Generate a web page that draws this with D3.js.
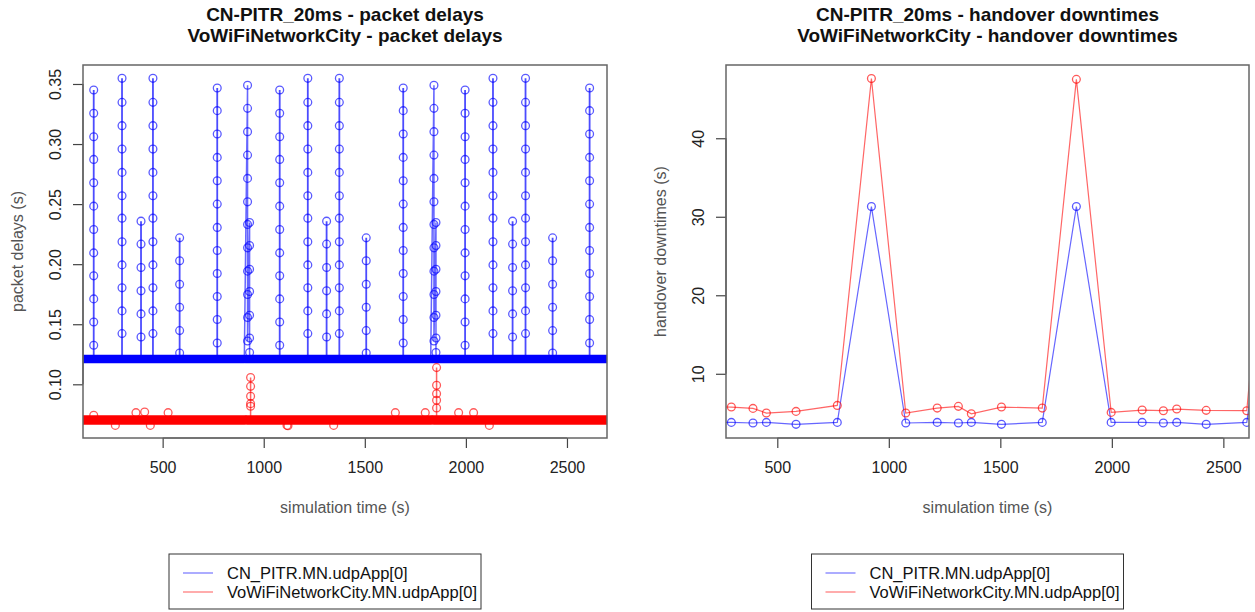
<!DOCTYPE html>
<html lang="en"><head>
<meta charset="utf-8">
<title>CN-PITR_20ms vs VoWiFiNetworkCity</title>
<script src="https://cdn.jsdelivr.net/npm/d3@7/dist/d3.min.js"></script>
<style>
body { margin:0; background:#fff; }
text { font-family: "Liberation Sans", Arial, Helvetica, sans-serif; }
</style>
</head>
<body>
<script>
// ---- data ----
var seriesNames = ["CN_PITR.MN.udpApp[0]", "VoWiFiNetworkCity.MN.udpApp[0]"];

// packet delays: steady levels (start, end, delay)
var cnBand = [[90, 904, 0.1211], [912, 1826, 0.1211], [1834, 2720, 0.1211]];
var vowifiBand = [[90, 906, 0.0703], [918, 1828, 0.0703], [1840, 2720, 0.0703]];

// delay ladders seen in each burst (s)
var ladderA = [0.345, 0.3256, 0.3061, 0.2872, 0.2678, 0.2483, 0.2289, 0.2094, 0.1903, 0.1711, 0.1519, 0.1325];
var ladderB = [0.3547, 0.3347, 0.3153, 0.2958, 0.2764, 0.2569, 0.2383, 0.2186, 0.1994, 0.1803, 0.1611, 0.1422];
var ladderC = [0.2358, 0.2167, 0.1972, 0.1778, 0.1586, 0.1394];
var ladderD = [0.2219, 0.2028, 0.1833, 0.1642, 0.1447, 0.1261];
var ladderE = [0.3467, 0.3278, 0.3083, 0.2889, 0.2694, 0.25, 0.2306, 0.2114, 0.1922, 0.1731, 0.1539, 0.1344];
var ladderH1 = [0.349, 0.3297, 0.3103, 0.2908, 0.2714, 0.2519, 0.2331, 0.2136, 0.1942, 0.1747, 0.1556, 0.1361];
var ladderH2 = [0.2347, 0.2156, 0.1958, 0.1772, 0.1575, 0.1386, 0.1264];
var ladderR1 = [0.1056, 0.0983, 0.09, 0.0839, 0.0817];
var ladderR2 = [0.1139, 0.0992, 0.0922, 0.0867, 0.0803];

var burstTimes = [159, 299, 393, 452, 584, 770, 1079, 1218, 1311, 1374, 1507, 1690, 1996, 2134, 2231, 2295, 2429, 2612];
var burstKinds = ["A", "B", "C", "B", "D", "E", "A", "B", "C", "B", "D", "E", "A", "B", "C", "B", "D", "E"];

// handover bursts: band end time, column times
var cnHandoverStart = [904, 1826];
var cnHandoverCols = [[920, 930], [1842, 1852]];
var vowifiHandoverTimes = [935, 1855];

var vowifiOutlierT = [159, 266, 368, 411, 439, 527, 1115, 1120, 1346, 1651, 1799, 1964, 2038, 2116];
var vowifiOutlierD = [0.0742, 0.0658, 0.0764, 0.0769, 0.0658, 0.0764, 0.0658, 0.0655, 0.0658, 0.0764, 0.0764, 0.0764, 0.0764, 0.0658];

// handover downtimes
var handoverTimes = [159, 294, 391, 451, 584, 769, 922, 1076, 1217, 1312, 1370, 1505, 1688, 1841, 1997, 2136, 2231, 2291, 2423, 2605, 2740];
var downtimeCN = [3.8, 3.81, 3.73, 3.81, 3.56, 3.81, 31.3, 3.73, 3.81, 3.73, 3.81, 3.56, 3.81, 31.3, 3.81, 3.81, 3.73, 3.81, 3.56, 3.81, 31.3];
var downtimeVoWiFi = [5.8, 5.76, 5.59, 5.0, 5.21, 5.97, 47.6, 5.0, 5.63, 5.85, 4.91, 5.76, 5.63, 47.5, 5.08, 5.38, 5.3, 5.51, 5.34, 5.3, 47.5];

var xTicks = [500, 1000, 1500, 2000, 2500];
var delayTicks = [0.10, 0.15, 0.20, 0.25, 0.30, 0.35];
var downTicks = [10, 20, 30, 40];

var ladders = {A: ladderA, B: ladderB, C: ladderC, D: ladderD, E: ladderE};

// ---- drawing ----
var width = 1255, height = 612;
var BLUE = "#0000ff", RED = "#ff0000";
var svg = d3.select("body").append("svg").attr("width", width).attr("height", height);

function frame(opt) {
    var g = svg.append("g");
    var x = d3.scaleLinear().domain(opt.xDomain).range([opt.left, opt.right]);
    var y = d3.scaleLinear().domain(opt.yDomain).range([opt.bottom, opt.top]);

    g.append("clipPath").attr("id", opt.id).append("rect")
        .attr("x", opt.left).attr("y", opt.top)
        .attr("width", opt.right - opt.left).attr("height", opt.bottom - opt.top);
    var plot = g.append("g").attr("clip-path", "url(#" + opt.id + ")");

    // x axis
    var gx = g.append("g").attr("transform", "translate(0," + opt.bottom + ")")
        .call(d3.axisBottom(x).tickValues(xTicks).tickFormat(d3.format("d"))
            .tickSize(10).tickPadding(14).tickSizeOuter(0));
    gx.select(".domain").attr("d", "M" + x(xTicks[0]) + ",0H" + x(xTicks[xTicks.length - 1]));
    // y axis
    var gy = g.append("g").attr("transform", "translate(" + opt.left + ",0)")
        .call(d3.axisLeft(y).tickValues(opt.yTicks).tickFormat(opt.yFormat).tickSize(10).tickSizeOuter(0));
    gy.select(".domain").attr("d", "M0," + y(opt.yTicks[0]) + "V" + y(opt.yTicks[opt.yTicks.length - 1]));
    gy.selectAll(".tick text").attr("x", null).attr("dy", "0.35em")
        .attr("transform", "translate(-28,0) rotate(-90)").attr("text-anchor", "middle");
    g.selectAll(".tick line, .domain").attr("stroke", "#444").attr("stroke-width", 1.2);
    g.selectAll(".tick text").attr("font-size", 16).attr("fill", "#222")
        .attr("font-family", "Liberation Sans, Arial, sans-serif");

    g.append("rect").attr("x", opt.left).attr("y", opt.top)
        .attr("width", opt.right - opt.left).attr("height", opt.bottom - opt.top)
        .attr("fill", "none").attr("stroke", "#666").attr("stroke-width", 1.5);

    var cx = (opt.left + opt.right) / 2;
    g.append("text").attr("x", cx).attr("y", 21).attr("text-anchor", "middle")
        .attr("font-size", 19).attr("font-weight", "bold").attr("fill", "#111").text(opt.title1);
    g.append("text").attr("x", cx).attr("y", 42).attr("text-anchor", "middle")
        .attr("font-size", 19).attr("font-weight", "bold").attr("fill", "#111").text(opt.title2);
    g.append("text").attr("x", cx).attr("y", 513).attr("text-anchor", "middle")
        .attr("font-size", 16).attr("fill", "#555").text("simulation time (s)");
    g.append("text").attr("transform", "translate(" + (opt.left - 66) + "," + ((opt.top + opt.bottom) / 2) + ") rotate(-90)")
        .attr("dy", "0.35em").attr("text-anchor", "middle")
        .attr("font-size", 16).attr("fill", "#555").text(opt.ylab);

    // legend
    var lx = cx - 20 - 156, ly = 554;
    var lg = g.append("g");
    lg.append("rect").attr("x", lx).attr("y", ly).attr("width", 312).attr("height", 55)
        .attr("fill", "#fff").attr("stroke", "#333").attr("stroke-width", 1);
    [BLUE, RED].forEach(function (c, i) {
        var yy = ly + 19 + i * 19;
        lg.append("line").attr("x1", lx + 14).attr("x2", lx + 44).attr("y1", yy).attr("y2", yy)
            .attr("stroke", c).attr("stroke-opacity", 0.55).attr("stroke-width", 1.2);
        lg.append("text").attr("x", lx + 58).attr("y", yy).attr("dy", "0.35em")
            .attr("font-size", 16.5).attr("fill", "#111").text(seriesNames[i]);
    });
    return {x: x, y: y, plot: plot};
}

function dots(plot, pts, x, y, color) {
    plot.append("g").selectAll("circle").data(pts).enter().append("circle")
        .attr("cx", function (d) { return x(d[0]); }).attr("cy", function (d) { return y(d[1]); })
        .attr("r", 3.9).attr("fill", "none").attr("stroke", color)
        .attr("stroke-opacity", 0.65).attr("stroke-width", 1.3);
}
function path(plot, pts, x, y, color, w, op) {
    plot.append("path").datum(pts)
        .attr("d", d3.line().x(function (d) { return x(d[0]); }).y(function (d) { return y(d[1]); }))
        .attr("fill", "none").attr("stroke", color).attr("stroke-width", w)
        .attr("stroke-opacity", op).attr("stroke-linecap", "round");
}

// ---- left: packet delays ----
var L = frame({id: "clipL", left: 83, right: 607, top: 65, bottom: 438,
    xDomain: [106, 2698], yDomain: [0.0553, 0.3658], yTicks: delayTicks,
    yFormat: d3.format(".2f"),
    title1: "CN-PITR_20ms - packet delays", title2: "VoWiFiNetworkCity - packet delays",
    ylab: "packet delays (s)"});

cnBand.forEach(function (b) {
    path(L.plot, [[b[0], b[2]], [b[1], b[2]]], L.x, L.y, BLUE, 8.5, 1);
});
vowifiBand.forEach(function (b) {
    path(L.plot, [[b[0], b[2]], [b[1], b[2]]], L.x, L.y, RED, 9.5, 1);
});

burstTimes.forEach(function (t, i) {
    var pts = ladders[burstKinds[i]].map(function (d) { return [t, d]; });
    path(L.plot, [[t, cnBand[0][2]]].concat(pts), L.x, L.y, BLUE, 1.8, 0.7);
    dots(L.plot, pts, L.x, L.y, BLUE);
});
cnHandoverCols.forEach(function (cols, i) {
    var c1 = ladderH1.map(function (d) { return [cols[0], d]; });
    var c2 = ladderH2.map(function (d) { return [cols[1], d]; });
    path(L.plot, [[cnHandoverStart[i], cnBand[0][2]]].concat(c1, c2, [[cols[1] + 2, cnBand[0][2]]]), L.x, L.y, BLUE, 1.5, 0.6);
    dots(L.plot, c1.concat(c2), L.x, L.y, BLUE);
});
[ladderR1, ladderR2].forEach(function (lad, i) {
    var t = vowifiHandoverTimes[i];
    var pts = lad.map(function (d) { return [t, d]; });
    path(L.plot, [[t, vowifiBand[0][2]]].concat(pts), L.x, L.y, RED, 1.5, 0.6);
    dots(L.plot, pts, L.x, L.y, RED);
});
dots(L.plot, vowifiOutlierT.map(function (t, i) { return [t, vowifiOutlierD[i]]; }), L.x, L.y, RED);

// ---- right: handover downtimes ----
var R = frame({id: "clipR", left: 726, right: 1249, top: 65, bottom: 438,
    xDomain: [270, 2615], yDomain: [1.82, 49.33], yTicks: downTicks,
    yFormat: d3.format("d"),
    title1: "CN-PITR_20ms - handover downtimes", title2: "VoWiFiNetworkCity - handover downtimes",
    ylab: "handover downtimes (s)"});

var cnPts = handoverTimes.map(function (t, i) { return [t, downtimeCN[i]]; });
var voPts = handoverTimes.map(function (t, i) { return [t, downtimeVoWiFi[i]]; });
path(R.plot, cnPts, R.x, R.y, BLUE, 1.2, 0.6);
dots(R.plot, cnPts, R.x, R.y, BLUE);
path(R.plot, voPts, R.x, R.y, RED, 1.2, 0.6);
dots(R.plot, voPts, R.x, R.y, RED);
</script>
</body>
</html>
